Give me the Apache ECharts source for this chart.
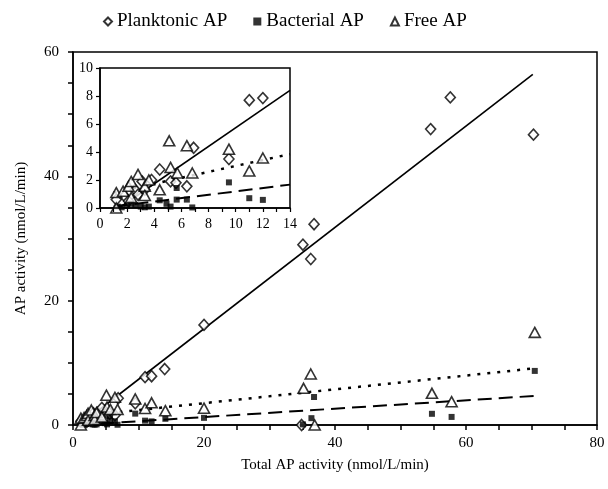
<!DOCTYPE html>
<html>
<head>
<meta charset="utf-8">
<script src="https://cdn.jsdelivr.net/npm/echarts@6/dist/echarts.min.js"></script>
<style>
  html, body { margin: 0; padding: 0; background: #fff; }
  #main { width: 608px; height: 489px; }
</style>
</head>
<body>
<div id="main"></div>
<script>
// data: [total AP, fraction AP]
var planktonic = [
	[1.2, 0.6], [1.8, 0.85], [2.1, 0.5], [2.6, 1.3], [2.8, 0.95], [3.1, 1.9],
	[3.3, 1.3], [3.8, 2.0], [4.4, 2.75], [5.2, 1.9], [5.6, 1.8], [6.4, 1.55],
	[6.9, 4.3], [9.5, 3.5], [11.0, 7.7], [12.0, 7.85], [14.0, 9.0], [20.0, 16.1],
	[34.9, 0], [35.1, 29.0], [36.3, 26.7], [36.8, 32.3], [54.6, 47.6], [57.6, 52.7],
	[70.3, 46.7]
];
var bacterial = [
	[1.3, 0.1], [1.6, 0.05], [2.0, 0.15], [2.3, 0.3], [2.6, 0.2], [3.0, 0.1],
	[3.3, 0.05], [3.6, 0.1], [4.4, 0.55], [4.9, 0.3], [5.2, 0.1], [5.65, 0.6],
	[5.65, 1.43], [6.4, 0.6], [6.8, 0.04], [9.5, 1.83], [11.0, 0.7], [12.0, 0.58],
	[14.1, 1.0], [20.0, 1.15], [35.1, 0.1], [36.4, 1.1], [36.8, 4.5], [54.8, 1.8],
	[57.8, 1.3], [70.5, 8.7]
];
var free = [
	[1.2, 0], [1.2, 1.1], [1.7, 1.2], [2.1, 1.55], [2.3, 1.9], [2.3, 0.75],
	[2.8, 2.4], [3.3, 1.55], [3.3, 0.9], [3.6, 2.0], [4.4, 1.3], [5.1, 4.8],
	[5.2, 2.9], [5.7, 2.5], [6.4, 4.45], [6.8, 2.5], [9.5, 4.2], [11.0, 2.65],
	[12.0, 3.57], [14.1, 2.3], [20.0, 2.7], [35.2, 5.9], [36.3, 8.2], [36.9, 0],
	[54.8, 5.1], [57.8, 3.75], [70.5, 14.9]
];

// regression lines, end points
var fitPlankMain = [[1.0, 0.0], [70.2, 56.4]];
var fitFreeMain = [[1.0, 1.4], [70.3, 9.1]];
var fitBactMain = [[1.0, 0.0], [70.8, 4.7]];
var fitPlankInset = [[1.4, 0.0], [14.0, 8.4]];
var fitFreeInset = [[1.0, 1.1], [14.0, 3.85]];
var fitBactInset = [[1.0, 0.1], [14.0, 1.67]];

// the inset only shows the samples below 13.5 nmol/L/min
function small(arr) {
	return arr.filter(function (p) { return p[0] < 13.5; });
}

var serif = 'Liberation Serif';
var black = '#000';

var myChart = echarts.init(document.getElementById('main'));

var hollow = { color: '#fff', borderColor: black, borderWidth: 1.6 };
var solid = { color: black };

// z: main marks 2-3, inset box 4, inset marks 6-7, inset axes 8
function pts(name, data, g, symbol, size, style) {
	return {
		name: name, type: 'scatter', data: data,
		xAxisIndex: g, yAxisIndex: g,
		symbol: symbol, symbolSize: size, itemStyle: style,
		clip: true, z: g ? 7 : 3
	};
}
function fit(data, g, type, width) {
	return {
		type: 'line', data: data, xAxisIndex: g, yAxisIndex: g,
		showSymbol: false, silent: true, z: g ? 6 : 2,
		lineStyle: { color: black, width: width, type: type }
	};
}

var option = {
	backgroundColor: '#fff',
	animation: false,
	textStyle: { fontFamily: serif, color: black },
	legend: {
		top: 7,
		left: 98,
		itemWidth: 8,
		itemHeight: 8,
		itemGap: 26,
		textStyle: { fontFamily: serif, fontSize: 19, color: black },
		data: ['Planktonic AP', 'Bacterial AP', 'Free AP']
	},
	grid: [{
		left: 73, right: 11, top: 52, bottom: 64, z: 0,
		show: true, borderColor: black, borderWidth: 1.5, backgroundColor: '#fff'
	}, {
		left: 100, top: 68, width: 190, height: 140, z: 4,
		show: true, borderColor: black, borderWidth: 1.5, backgroundColor: '#fff'
	}],
	xAxis: [{
		gridIndex: 0, type: 'value', min: 0, max: 80, interval: 5,
		name: 'Total AP activity (nmol/L/min)', nameLocation: 'middle', nameGap: 33,
		nameTextStyle: { fontFamily: serif, fontSize: 15, color: black },
		axisLine: { lineStyle: { color: black, width: 1.5 } },
		axisTick: { length: 5, lineStyle: { color: black, width: 1.5 } },
		axisLabel: {
			margin: 11, fontSize: 15, color: black, fontFamily: serif,
			formatter: function (v) { return v % 20 === 0 ? v : ''; }
		},
		splitLine: { show: false }
	}, {
		gridIndex: 1, type: 'value', min: 0, max: 14, interval: 1, z: 8,
		axisLine: { lineStyle: { color: black, width: 1.5 } },
		axisTick: { length: 4, lineStyle: { color: black, width: 1.2 } },
		axisLabel: {
			margin: 9, fontSize: 14, color: black, fontFamily: serif,
			formatter: function (v) { return v % 2 === 0 ? v : ''; }
		},
		splitLine: { show: false }
	}],
	yAxis: [{
		gridIndex: 0, type: 'value', min: 0, max: 60, interval: 5,
		name: 'AP activity (nmol/L/min)', nameLocation: 'middle', nameGap: 44,
		nameTextStyle: { fontFamily: serif, fontSize: 15, color: black },
		axisLine: { lineStyle: { color: black, width: 1.5 } },
		axisTick: { length: 5, lineStyle: { color: black, width: 1.5 } },
		axisLabel: {
			margin: 14, fontSize: 15, color: black, fontFamily: serif,
			formatter: function (v) { return v % 20 === 0 ? v : ''; }
		},
		splitLine: { show: false }
	}, {
		gridIndex: 1, type: 'value', min: 0, max: 10, interval: 2, z: 8,
		axisLine: { lineStyle: { color: black, width: 1.5 } },
		axisTick: { length: 4, lineStyle: { color: black, width: 1.2 } },
		axisLabel: { margin: 7, fontSize: 14, color: black, fontFamily: serif },
		splitLine: { show: false }
	}],
	series: [
		fit(fitPlankMain, 0, 'solid', 1.6),
		fit(fitFreeMain, 0, [3, 7], 2.5),
		fit(fitBactMain, 0, [14, 7], 2),
		pts('Planktonic AP', planktonic, 0, 'diamond', [10, 11], hollow),
		pts('Bacterial AP', bacterial, 0, 'rect', 6, solid),
		pts('Free AP', free, 0, 'triangle', [11, 10], hollow),

		fit(fitPlankInset, 1, 'solid', 1.6),
		fit(fitFreeInset, 1, [3, 7], 2.5),
		fit(fitBactInset, 1, [14, 7], 2),
		pts('Planktonic AP', small(planktonic), 1, 'diamond', [10, 11], hollow),
		pts('Bacterial AP', small(bacterial), 1, 'rect', 6, solid),
		pts('Free AP', small(free), 1, 'triangle', [11, 10], hollow)
	]
};

myChart.setOption(option);
</script>
</body>
</html>
